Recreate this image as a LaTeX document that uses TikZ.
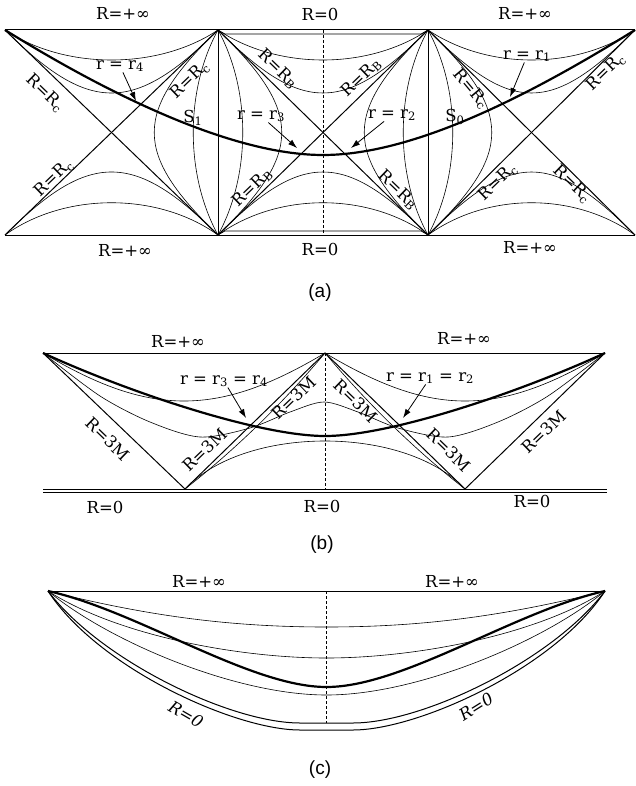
\documentclass[tikz,border=0pt]{standalone}
\usepackage{fontspec}
\setmainfont{DejaVu Serif}
\newfontfamily\capfont{Liberation Sans}
\usetikzlibrary{arrows.meta}

\tikzset{
  bound/.style={line width=1pt},
  horizon/.style={line width=1pt},
  rline/.style={line width=0.6pt},
  worldline/.style={line width=2.2pt},
  midline/.style={line width=0.8pt,dash pattern=on 3pt off 2pt},
  lbl/.style={font=\fontsize{16.5}{16.5}\selectfont,inner sep=0.5pt},
  ilbl/.style={lbl,font=\itshape\fontsize{16.5}{16.5}\selectfont},
  pointer/.style={line width=0.8pt,-{Latex[length=9pt,width=6pt]}},
  panel/.style={font=\capfont\fontsize{19}{19}\selectfont}
}

\begin{document}
\begin{tikzpicture}[x=1pt,y=-1pt]
\useasboundingbox (0,0) rectangle (636,786);

% ---- panel (a)
\coordinate (t0) at (5,30);   \coordinate (b0) at (5,235);
\coordinate (t1) at (218,30); \coordinate (b1) at (218,235);
\coordinate (t2) at (428,30); \coordinate (b2) at (428,235);
\coordinate (t3) at (635,30); \coordinate (b3) at (635,235);
\draw[bound] (t0) -- (t3);
\draw[bound] (b0) -- (b3);
\draw[bound] (t1) -- (b1);
\draw[bound] (t2) -- (b2);
\draw[rline] (t1) -- (225,34) -- (421,34) -- (t2);
\draw[rline] (b1) -- (225,231) -- (421,231) -- (b2);
\foreach \i/\j in {0/1,1/2,2/3}{
  \draw[horizon] (t\i) -- (b\j);
  \draw[horizon] (b\i) -- (t\j);
  \draw[rline] (t\i) .. controls +(60,40) and +(-60,40) .. (t\j);
  \draw[rline] (t\i) .. controls +(84,84) and +(-84,84) .. (t\j);
  \draw[rline] (b\i) .. controls +(60,-43) and +(-60,-43) .. (b\j);
  \draw[rline] (b\i) .. controls +(84,-84) and +(-84,-84) .. (b\j);
}
\foreach \i in {1,2}{
  \draw[rline] (t\i) .. controls +(-33,60) and +(-33,-60) .. (b\i);
  \draw[rline] (t\i) .. controls +(-85,82) and +(-85,-82) .. (b\i);
  \draw[rline] (t\i) .. controls +(33,60) and +(33,-60) .. (b\i);
  \draw[rline] (t\i) .. controls +(85,82) and +(85,-82) .. (b\i);
}
\coordinate (ma) at (323,30); \coordinate (mb) at (323,235);
\draw[midline] (ma) -- (mb);
\draw[worldline] (t0) .. controls (105,92) and (230,155) .. (323,155)
  .. controls (416,155) and (535,92) .. (t3);

\node[lbl] (ainf1) at (123,13) {R=+∞};
\node[lbl] (azero1) at (320,14) {R=0};
\node[lbl] (ainf2) at (525,13) {R=+∞};
\node[lbl] (ainf3) at (125,250) {R=+∞};
\node[lbl] (azero2) at (320,249) {R=0};
\node[lbl] (ainf4) at (530,247) {R=+∞};
\node[lbl,rotate=-44] (hc1) at (45,93) {R=R\textsubscript{c}};
\node[lbl,rotate=44] (hc2) at (54,178) {R=R\textsubscript{c}};
\node[lbl,rotate=44] (hc3) at (190,80) {R=R\textsubscript{c}};
\node[lbl,rotate=-44] (hb1) at (278,69) {R=R\textsubscript{B}};
\node[lbl,rotate=44] (hb2) at (361,78) {R=R\textsubscript{B}};
\node[lbl,rotate=44] (hb3) at (252,188) {R=R\textsubscript{B}};
\node[lbl,rotate=-44] (hb4) at (398,190) {R=R\textsubscript{B}};
\node[lbl,rotate=-50] (hc4) at (471,89) {R=R\textsubscript{c}};
\node[lbl,rotate=44] (hc5) at (606,72) {R=R\textsubscript{c}};
\node[lbl,rotate=44] (hc6) at (498,182) {R=R\textsubscript{c}};
\node[lbl,rotate=-44] (hc7) at (572,184) {R=R\textsubscript{c}};
\node[lbl] (s1) at (193,118) {S\textsubscript{1}};
\node[lbl] (s0) at (455,117) {S\textsubscript{0}};
\node[lbl] (lr4) at (120,66) {r = r\textsubscript{4}};
\node[lbl] (lr3) at (261,116) {r = r\textsubscript{3}};
\node[lbl] (lr2) at (392,115) {r = r\textsubscript{2}};
\node[lbl] (lr1) at (527,56) {r = r\textsubscript{1}};
\coordinate (p4) at (136,101);
\coordinate (p3) at (297,148);
\coordinate (p2) at (351,148);
\coordinate (p1) at (510,97);
\draw[pointer] (lr4) -- (p4);
\draw[pointer] (lr3) -- (p3);
\draw[pointer] (lr2) -- (p2);
\draw[pointer] (lr1) -- (p1);
\node[panel] (capa) at (320,293) {(a)};

% ---- panel (b)
\coordinate (L) at (43,353);
\coordinate (B1) at (185,489);
\coordinate (C) at (325,353);
\coordinate (B2) at (465,489);
\coordinate (Rt) at (605,353);
\coordinate (bl1) at (43,489);   \coordinate (br1) at (607,489);
\coordinate (bl2) at (43,492.5); \coordinate (br2) at (607,492.5);
\draw[bound] (L) -- (Rt);
\draw[bound] (bl1) -- (br1);
\draw[bound] (bl2) -- (br2);
\draw[horizon] (L) -- (B1) -- (C) -- (B2) -- (Rt);
\draw[rline] (C) .. controls (283,403) and (236,449) .. (B1);
\draw[rline] (C) .. controls (367,403) and (414,449) .. (B2);
\draw[rline] (L) .. controls (150,417) and (218,417) .. (C);
\draw[rline] (C) .. controls (432,417) and (498,417) .. (Rt);
\draw[rline] plot[smooth] coordinates {(L) (100,396) (150,422) (200,437)
  (250,428) (290,412) (324,402) (358,412) (398,428) (448,437) (498,422)
  (548,396) (Rt)};
\draw[rline] (B1) .. controls (245,425) and (405,425) .. (B2);
\coordinate (mc) at (325,489);
\draw[midline] (C) -- (mc);
\draw[worldline] (L) .. controls (130,393) and (260,436) .. (325,436)
  .. controls (390,436) and (518,393) .. (Rt);

\node[lbl] (binf1) at (178,341) {R=+∞};
\node[lbl] (binf2) at (464,338) {R=+∞};
\node[lbl] (bzero1) at (105,507) {R=0};
\node[lbl] (bzero2) at (322,506) {R=0};
\node[lbl] (bzero3) at (532,501) {R=0};
\node[lbl,rotate=-44] (m1) at (108,439) {R=3M};
\node[lbl,rotate=44] (m2) at (205,450) {R=3M};
\node[lbl,rotate=44] (m3) at (294,398) {R=3M};
\node[lbl,rotate=-44] (m4) at (356,401) {R=3M};
\node[lbl,rotate=-44] (m5) at (449,450) {R=3M};
\node[lbl,rotate=44] (m6) at (544,432) {R=3M};
\node[lbl] (lr34) at (224,381) {r = r\textsubscript{3} = r\textsubscript{4}};
\node[lbl] (lr12) at (430,378) {r = r\textsubscript{1} = r\textsubscript{2}};
\coordinate (q34) at (246,418);
\coordinate (q12) at (403,418);
\draw[pointer] (lr34) -- (q34);
\draw[pointer] (lr12) -- (q12);
\node[panel] (capb) at (322,545) {(b)};

% ---- panel (c)
\coordinate (cl) at (48,591);
\coordinate (cr) at (605,591);
\draw[bound] (cl) -- (cr);
\draw[rline] (cl) .. controls (148,616) and (230,627) .. (326.5,627)
  .. controls (423,627) and (505,616) .. (cr);
\draw[rline] (cl) .. controls (118,636) and (240,658) .. (326.5,658)
  .. controls (413,658) and (535,636) .. (cr);
\draw[rline] (cl) .. controls (108,641) and (235,695) .. (326.5,695)
  .. controls (418,695) and (545,641) .. (cr);
\draw[horizon] (cl) .. controls (100,660) and (230,723) .. (300,723)
  -- (353,723) .. controls (423,723) and (553,660) .. (cr);
\draw[horizon] (cl) .. controls (98,668) and (235,730) .. (300,730)
  -- (353,730) .. controls (418,730) and (555,668) .. (cr);
\coordinate (mt) at (326.5,591); \coordinate (mu) at (326.5,723);
\draw[midline] (mt) -- (mu);
\draw[worldline] (cl) .. controls (138,611) and (250,687) .. (326.5,687)
  .. controls (403,687) and (515,611) .. (cr);

\node[lbl] (cinf1) at (199,581) {R=+∞};
\node[lbl] (cinf2) at (452,581) {R=+∞};
\node[ilbl,rotate=-30] (czero1) at (186,714) {R=0};
\node[ilbl,rotate=32] (czero2) at (476,707) {R=0};
\node[panel] (capc) at (320,770) {(c)};
\end{tikzpicture}
\end{document}
